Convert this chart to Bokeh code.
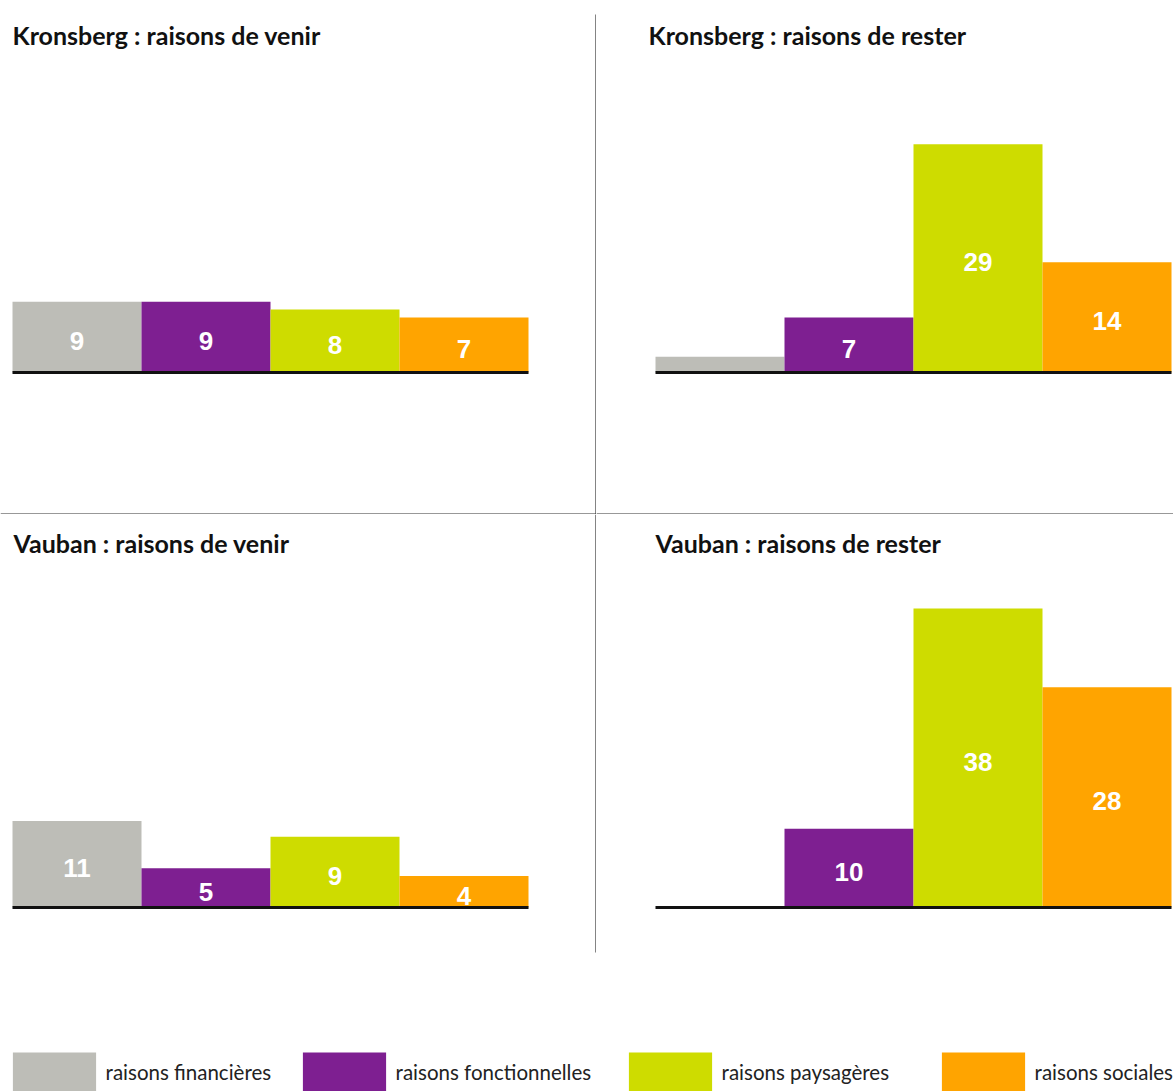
from bokeh.plotting import figure
from bokeh.models import Range1d, Legend, LegendItem, ColumnDataSource, Label
from bokeh.layouts import column, row
from bokeh.embed import file_html
from bokeh.resources import INLINE
from bokeh.core.properties import value

# ---------------- data ----------------
categories = ["raisons financières", "raisons fonctionnelles",
              "raisons paysagères", "raisons sociales"]
colors = ["#BDBDB7", "#7E1F91", "#CEDC00", "#FFA400"]

kronsberg_venir = [9, 9, 8, 7]
kronsberg_rester = [2, 7, 29, 14]
vauban_venir = [11, 5, 9, 4]
vauban_rester = [0, 10, 38, 28]

titles = ["Kronsberg : raisons de venir", "Kronsberg : raisons de rester",
          "Vauban : raisons de venir", "Vauban : raisons de rester"]

# ---------------- styling / layout ----------------
PX_X = 129.0   # pixels per bar slot
PX_Y = 7.87    # pixels per unit
TITLE_FONT = "Lato"
NUM_FONT = "Liberation Sans"


def panel(title, vals, left, top, width, height, bar_left, baseline,
          title_x, title_y, vline=None, hline=None):
    def fx(px):
        return (px - bar_left) / PX_X

    def fy(py):
        return (baseline - py) / PX_Y

    p = figure(width=width, height=height,
               x_range=Range1d(fx(left), fx(left + width)),
               y_range=Range1d(fy(top + height), fy(top)),
               output_backend="svg", toolbar_location=None,
               min_border=0, outline_line_color=None,
               x_axis_location=None, y_axis_location=None,
               background_fill_color="white", border_fill_color="white")
    p.xgrid.grid_line_color = None
    p.ygrid.grid_line_color = None

    n = len(categories)
    xs = [i + 0.5 for i in range(n)]
    src = ColumnDataSource(dict(
        x=xs, top=vals, color=colors,
        mid=[v / 2 for v in vals],
        label=[str(v) if v > 3 else "" for v in vals]))
    p.vbar(x="x", top="top", bottom=0, width=1.0, fill_color="color",
           line_color=None, source=src)
    p.text(x="x", y="mid", text="label", source=src, text_color="white",
           text_font=value(NUM_FONT), text_font_style="bold",
           text_font_size="26px", text_align="center",
           text_baseline="middle", y_offset=4)
    p.segment(x0=[0], y0=[0], x1=[n], y1=[0], line_color="#111111",
              line_width=3)

    p.add_layout(Label(x=fx(title_x), y=fy(title_y), text=title,
                       text_font=TITLE_FONT, text_font_style="bold",
                       text_font_size="25px", text_color="#111111",
                       text_align="left", text_baseline="middle"))

    if vline is not None:
        vx, vy0, vy1 = vline
        p.segment(x0=[fx(vx)], y0=[fy(vy0)], x1=[fx(vx)], y1=[fy(vy1)],
                  line_color="#333333", line_width=1.2)
    if hline is not None:
        hy, hx0, hx1 = hline
        p.segment(x0=[fx(hx0)], y0=[fy(hy)], x1=[fx(hx1)], y1=[fy(hy)],
                  line_color="#333333", line_width=1.2)
    return p


tl = panel(titles[0], kronsberg_venir, 0, 0, 596, 514, 12, 372, 12, 34,
           vline=(595.5, 14, 514), hline=(513.5, 0, 596))
tr = panel(titles[1], kronsberg_rester, 596, 0, 577, 514, 655, 372, 648, 34,
           hline=(513.5, 596, 1173))
bl = panel(titles[2], vauban_venir, 0, 514, 596, 446, 12, 907, 13, 542,
           vline=(595.5, 514, 952))
br = panel(titles[3], vauban_rester, 596, 514, 577, 446, 655, 907, 655, 542)

# ---------------- legend ----------------
leg = figure(width=1173, height=131, x_range=Range1d(0, 1), y_range=Range1d(0, 1),
             output_backend="svg", toolbar_location=None, min_border=0,
             outline_line_color=None, x_axis_location=None, y_axis_location=None)
leg.xgrid.grid_line_color = None
leg.ygrid.grid_line_color = None
swatch_left = [12, 302, 628, 941]   # legend entry positions (px)
for cat, col, sx in zip(categories, colors, swatch_left):
    r = leg.vbar(x=[0.5], top=[0], bottom=0, width=0.01, fill_color=col,
                 line_color=None)
    legend = Legend(items=[LegendItem(label=cat, renderers=[r])],
                    orientation="horizontal", location=(sx - 10.4, -6),
                    glyph_width=104, glyph_height=50, label_standoff=-11,
                    spacing=0, padding=0, margin=0, border_line_color=None,
                    background_fill_alpha=0, label_text_font="Lato",
                    label_text_font_size="20.5px", label_text_color="#222222")
    leg.add_layout(legend)

layout = column(row(tl, tr), row(bl, br), leg)

open("out.html", "w").write(file_html(layout, INLINE))
